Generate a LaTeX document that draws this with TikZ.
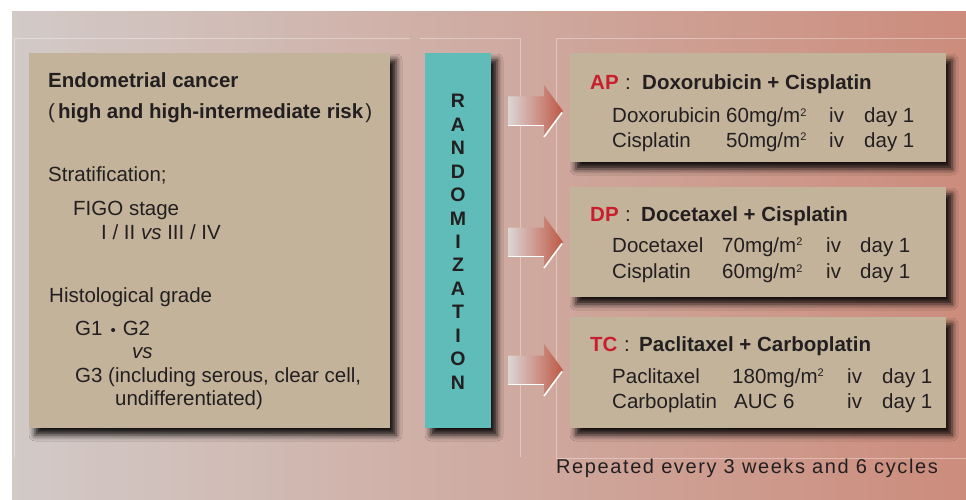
\documentclass[tikz,border=0pt]{standalone}
\usepackage{fontspec}
\setmainfont{Liberation Sans}
\usetikzlibrary{calc,shadows.blur}
\definecolor{bgl}{RGB}{210,202,199}
\definecolor{bgr}{RGB}{204,140,124}
\definecolor{tanc}{RGB}{195,179,154}
\definecolor{tealc}{RGB}{95,188,184}
\definecolor{txtc}{RGB}{35,31,32}
\definecolor{redc}{RGB}{200,30,45}
\definecolor{arrl}{RGB}{220,214,214}
\definecolor{arrr}{RGB}{190,88,68}
\newcommand{\sqm}{m\raisebox{6.5pt}{\fontsize{11}{11}\selectfont 2}}
\tikzset{
  box/.style={draw=none, inner sep=0pt, outer sep=0pt, anchor=north west,
    blur shadow={shadow xshift=6pt, shadow yshift=-7pt, shadow blur radius=6pt, shadow opacity=90}},
  tanbox/.style={box, fill=tanc},
  randbox/.style={box, fill=tealc},
  txt/.style={anchor=base west, inner sep=0pt, font=\fontsize{20.5}{24}\selectfont, text=txtc},
  btxt/.style={txt, font=\fontsize{20.5}{24}\selectfont\bfseries},
  rtxt/.style={btxt, text=redc},
  coln/.style={anchor=base, inner sep=0pt, font=\fontsize{20.5}{24}\selectfont, text=txtc},
  ltr/.style={anchor=base, inner sep=0pt, font=\fontsize{19.5}{24}\selectfont\bfseries, text=txtc},
  faint/.style={draw=white, draw opacity=0.35, line width=0.8pt},
  arrowbody/.style={left color=arrl, right color=arrr},
  hilite/.style={draw=white, line width=1.6pt},
}
\begin{document}
\begin{tikzpicture}[x=1pt,y=-1pt]
\path[use as bounding box, fill=white] (0,0) rectangle (966,500);
\shade[left color=bgl, right color=bgr] (12,12) rectangle (966,500);
% faint frame lines
\draw[faint] (14,457) -- (14,38) -- (410,38);
\draw[faint] (420,38) -- (520,38) -- (520,457);
\draw[faint] (966,38) -- (556,38) -- (556,458) -- (966,458);
% boxes
\node[tanbox, minimum width=361pt, minimum height=375pt] (left) at (29,53) {};
\node[randbox, minimum width=66pt, minimum height=375pt] (rand) at (425,53) {};
\node[tanbox, minimum width=376pt, minimum height=109pt] (ap) at (570,53) {};
\node[tanbox, minimum width=376pt, minimum height=110pt] (dp) at (570,187) {};
\node[tanbox, minimum width=376pt, minimum height=111pt] (tc) at (570,317) {};
% arrows
\foreach \yy/\n in {111/1,242/2,370/3}{
  \coordinate (tip\n) at (563,\yy);
  \shade[arrowbody] ($(tip\n)+(-55,-14.5)$) -- ++(36,0) -- ++(0,-11.5) -- (tip\n)
     -- ++(-19,26) -- ++(0,-11.5) -- ++(-36,0) -- cycle;
  \draw[hilite] ($(tip\n)+(-55,14.5)$) -- ++(36,0);
  \draw[hilite] ($(tip\n)+(-1,1.5)$) -- ($(tip\n)+(-19,26)$);
}
% left box text
\node[btxt] (t1) at (48,88) {Endometrial cancer};
\node[btxt] (t2) at (48,119) {{\mdseries(}\hspace{3pt}high and high-intermediate risk\hspace{2pt}{\mdseries)}};
\node[txt] (t3) at (48,181) {Stratification;};
\node[txt] (t4) at (73,215) {FIGO stage};
\node[txt] (t5) at (101,239) {I / II \textit{vs} III / IV};
\node[txt] (t6) at (49,302) {Histological grade};
\node[txt] (t7) at (75,335) {G1\hspace{8pt}{\fontsize{15}{15}\selectfont •}\hspace{7pt}G2};
\node[txt] (t8) at (132,358) {\textit{vs}};
\node[txt] (t9) at (75,382) {G3 (including serous, clear cell,};
\node[txt] (t10) at (115,405) {undifferentiated)};
% randomization
\foreach \c [count=\i from 0] in {R,A,N,D,O,M,I,Z,A,T,I,O,N}
  \node[ltr] (l\i) at (458,{108+23.42*\i}) {\c};
% AP
\node[rtxt] (apa) at (590,90) {AP};
\node[coln] (apc) at (628,90) {:};
\node[btxt] (aph) at (642,90) {Doxorubicin + Cisplatin};
\node[txt] (ap1a) at (612,122.7) {Doxorubicin};
\node[txt] (ap1b) at (726,122.7) {60mg/\sqm};
\node[txt] (ap1c) at (829,122.7) {iv};
\node[txt] (ap1d) at (864,122.7) {day 1};
\node[txt] (ap2a) at (612,147) {Cisplatin};
\node[txt] (ap2b) at (726,147) {50mg/\sqm};
\node[txt] (ap2c) at (829,147) {iv};
\node[txt] (ap2d) at (864,147) {day 1};
% DP
\node[rtxt] (dpa) at (590,221) {DP};
\node[coln] (dpc) at (628,221) {:};
\node[btxt] (dph) at (641,221) {Docetaxel + Cisplatin};
\node[txt] (dp1a) at (612,252) {Docetaxel};
\node[txt] (dp1b) at (722,252) {70mg/\sqm};
\node[txt] (dp1c) at (826,252) {iv};
\node[txt] (dp1d) at (860,252) {day 1};
\node[txt] (dp2a) at (612,278.5) {Cisplatin};
\node[txt] (dp2b) at (722,278.5) {60mg/\sqm};
\node[txt] (dp2c) at (826,278.5) {iv};
\node[txt] (dp2d) at (860,278.5) {day 1};
% TC
\node[rtxt] (tca) at (590,351) {TC};
\node[coln] (tcc) at (627,351) {:};
\node[btxt] (tch) at (639,351) {Paclitaxel + Carboplatin};
\node[txt] (tc1a) at (612,383) {Paclitaxel};
\node[txt] (tc1b) at (732,383) {180mg/\sqm};
\node[txt] (tc1c) at (847,383) {iv};
\node[txt] (tc1d) at (882,383) {day 1};
\node[txt] (tc2a) at (612,408) {Carboplatin};
\node[txt] (tc2b) at (734,408) {AUC 6};
\node[txt] (tc2c) at (847,408) {iv};
\node[txt] (tc2d) at (882,408) {day 1};
% footer
\node[txt, font=\fontsize{20}{24}\selectfont\addfontfeature{LetterSpace=8}] (rep) at (556,473) {Repeated every 3 weeks and 6 cycles};
\end{tikzpicture}
\end{document}
